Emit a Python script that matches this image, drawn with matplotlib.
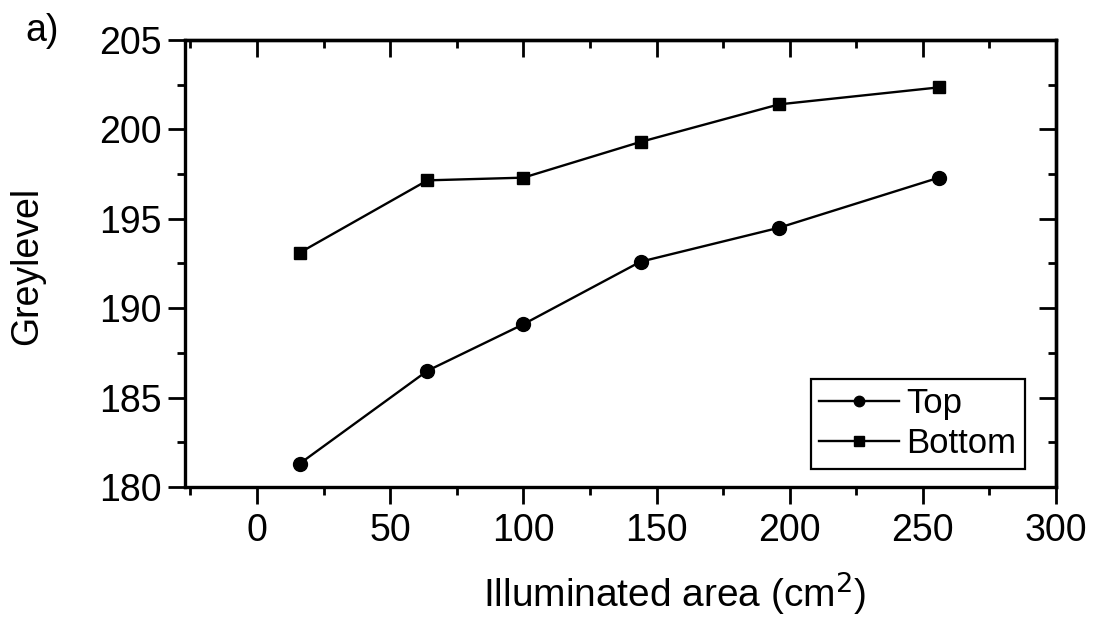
import matplotlib
matplotlib.use("Agg")
import matplotlib.pyplot as plt
from matplotlib.ticker import MultipleLocator

plt.rcParams['font.family'] = ['Liberation Sans', 'DejaVu Sans']

# data
area = [16, 64, 100, 144, 196, 256]
top = [181.3, 186.5, 189.1, 192.6, 194.5, 197.3]
bottom = [193.1, 197.15, 197.3, 199.3, 201.4, 202.35]

fig = plt.figure(figsize=(10.93, 6.24), dpi=100)
ax = fig.add_axes([0.1693, 0.2196, 0.7969, 0.7163])

ax.plot(area, top, 'k-', marker='o', markersize=10, linewidth=1.7, label='Top')
ax.plot(area, bottom, 'k-', marker='s', markersize=9, linewidth=1.7, label='Bottom')

ax.set_xlim(-27, 300)
ax.set_ylim(180, 205)

ax.xaxis.set_major_locator(MultipleLocator(50))
ax.xaxis.set_minor_locator(MultipleLocator(25))
ax.yaxis.set_major_locator(MultipleLocator(5))
ax.yaxis.set_minor_locator(MultipleLocator(2.5))

for s in ax.spines.values():
    s.set_linewidth(2.4)

ax.tick_params(which='major', direction='out', length=12, width=2, labelsize=27, pad=5)
ax.tick_params(which='minor', direction='out', length=6, width=2)
ax.tick_params(axis='x', which='major', pad=7)

# mirrored ticks pointing inward on top and right
sec_x = ax.secondary_xaxis('top')
sec_x.xaxis.set_major_locator(MultipleLocator(50))
sec_x.xaxis.set_minor_locator(MultipleLocator(25))
sec_x.tick_params(which='major', direction='in', length=12, width=2, labeltop=False)
sec_x.tick_params(which='minor', direction='in', length=6, width=2)
sec_x.spines['top'].set_linewidth(2.4)

sec_y = ax.secondary_yaxis('right')
sec_y.yaxis.set_major_locator(MultipleLocator(5))
sec_y.yaxis.set_minor_locator(MultipleLocator(2.5))
sec_y.tick_params(which='major', direction='in', length=12, width=2, labelright=False)
sec_y.tick_params(which='minor', direction='in', length=6, width=2)
sec_y.spines['right'].set_linewidth(2.4)

ax.set_xlabel('Illuminated area (cm$^2$)', fontsize=28, va='top')
ax.xaxis.set_label_coords(0.5626, -0.185)
ax.set_ylabel('Greylevel', fontsize=27, va='center')
ax.yaxis.set_label_coords(-0.181, 0.494)

leg = ax.legend(loc='lower right', bbox_to_anchor=(0.964, 0.04), fontsize=25,
                frameon=True, fancybox=False, edgecolor='black', framealpha=1,
                handlelength=2.3, handletextpad=0.2, labelspacing=0.2,
                borderpad=0.25, borderaxespad=0, markerscale=0.75)
leg.get_frame().set_linewidth(1.6)

fig.text(0.023, 0.95, 'a)', fontsize=27, va='center', ha='left')

fig.savefig('out.png', dpi=100)
